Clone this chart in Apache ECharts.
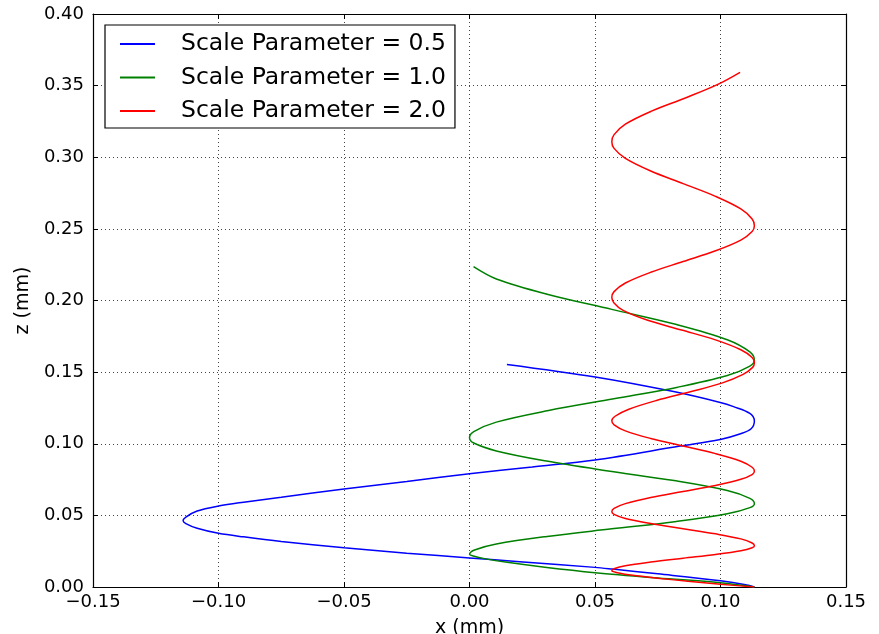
<!DOCTYPE html>
<html>
<head>
<meta charset="utf-8">
<script src="https://cdn.jsdelivr.net/npm/echarts@6/dist/echarts.min.js"></script>
<style>
html,body{margin:0;padding:0;background:#fff;}
#chart{width:879px;height:634px;}
</style>
</head>
<body>
<div id="chart"></div>
<script>
var seriesNames = ['Scale Parameter = 0.5', 'Scale Parameter = 1.0', 'Scale Parameter = 2.0'];
var seriesColors = ['#0000ff', '#008000', '#ff0000'];
var xTicks = {min: -0.15, max: 0.15, step: 0.05};
var zTicks = {min: 0, max: 0.40, step: 0.05};

// x (mm), z (mm) pairs
var blueData = [
  [0.1135, 0.0000], [0.1100, 0.0016], [0.1000, 0.0043], [0.0750, 0.0092],
  [0.0570, 0.0125], [0.0500, 0.0137], [0.0200, 0.0177], [0.0000, 0.0203],
  [-0.0250, 0.0236], [-0.0500, 0.0274], [-0.0750, 0.0318], [-0.0900, 0.0350],
  [-0.1000, 0.0375], [-0.1085, 0.0410], [-0.1130, 0.0443], [-0.1141, 0.0462],
  [-0.1130, 0.0488], [-0.1085, 0.0530], [-0.1000, 0.0565], [-0.0900, 0.0592],
  [-0.0750, 0.0627], [-0.0500, 0.0684], [-0.0250, 0.0737], [0.0000, 0.0790],
  [0.0250, 0.0838], [0.0500, 0.0887], [0.0839, 0.0984], [0.0999, 0.1030],
  [0.1080, 0.1070], [0.1122, 0.1105], [0.1135, 0.1159], [0.1117, 0.1212],
  [0.1052, 0.1259], [0.0999, 0.1288], [0.0813, 0.1364], [0.0501, 0.1466],
  [0.0149, 0.1554]
];

var greenData = [
  [0.1135, 0.0000], [0.1000, 0.0030], [0.0750, 0.0063], [0.0500, 0.0100],
  [0.0300, 0.0138], [0.0150, 0.0172], [0.0060, 0.0198], [0.0015, 0.0217],
  [0.0000, 0.0229],
  [0.0017, 0.0257], [0.0107, 0.0300], [0.0309, 0.0353], [0.0567, 0.0406],
  [0.0825, 0.0458], [0.1027, 0.0511], [0.1117, 0.0554], [0.1135, 0.0582],
  [0.1117, 0.0619], [0.1027, 0.0674], [0.0815, 0.0743], [0.0545, 0.0812],
  [0.0300, 0.0881], [0.0107, 0.0950], [0.0017, 0.1005], [0.0000, 0.1042],
  [0.0017, 0.1085], [0.0107, 0.1151], [0.0315, 0.1232], [0.0575, 0.1314],
  [0.0830, 0.1395], [0.1027, 0.1476], [0.1117, 0.1542], [0.1135, 0.1585],
  [0.1117, 0.1641], [0.1027, 0.1726], [0.0825, 0.1832], [0.0567, 0.1938],
  [0.0309, 0.2044], [0.0107, 0.2150], [0.0016, 0.2236]
];

var redData = [
  [0.1135, 0.0000], [0.1000, 0.0019], [0.0870, 0.0040], [0.0760, 0.0060],
  [0.0650, 0.0082], [0.0590, 0.0100], [0.0567, 0.0113],
  [0.0576, 0.0127], [0.0621, 0.0148], [0.0722, 0.0174], [0.0851, 0.0201],
  [0.0980, 0.0227], [0.1081, 0.0253], [0.1126, 0.0274], [0.1135, 0.0288],
  [0.1126, 0.0307], [0.1081, 0.0336], [0.0980, 0.0371], [0.0851, 0.0407],
  [0.0722, 0.0443], [0.0621, 0.0478], [0.0576, 0.0507], [0.0567, 0.0526],
  [0.0576, 0.0549], [0.0621, 0.0582], [0.0722, 0.0625], [0.0851, 0.0667],
  [0.0980, 0.0709], [0.1081, 0.0752], [0.1126, 0.0785], [0.1135, 0.0808],
  [0.1126, 0.0836], [0.1081, 0.0878], [0.0980, 0.0931], [0.0851, 0.0984],
  [0.0722, 0.1037], [0.0621, 0.1090], [0.0576, 0.1132], [0.0567, 0.1160],
  [0.0580, 0.1192], [0.0635, 0.1241], [0.0745, 0.1302], [0.0880, 0.1363],
  [0.1005, 0.1423], [0.1090, 0.1484], [0.1128, 0.1533], [0.1135, 0.1565],
  [0.1126, 0.1602], [0.1081, 0.1656], [0.0980, 0.1725], [0.0845, 0.1794],
  [0.0710, 0.1862], [0.0612, 0.1931], [0.0575, 0.1985], [0.0567, 0.2022],
  [0.0576, 0.2062], [0.0621, 0.2122], [0.0722, 0.2197], [0.0851, 0.2272],
  [0.0980, 0.2347], [0.1081, 0.2422], [0.1126, 0.2482], [0.1135, 0.2522],
  [0.1126, 0.2569], [0.1081, 0.2639], [0.0980, 0.2727], [0.0851, 0.2816],
  [0.0722, 0.2904], [0.0621, 0.2992], [0.0576, 0.3062], [0.0567, 0.3109],
  [0.0576, 0.3158], [0.0621, 0.3231], [0.0725, 0.3322], [0.0860, 0.3414],
  [0.0985, 0.3505], [0.1078, 0.3593]
];

var allData = [blueData, greenData, redData];

function fmt(v) {
  if (Math.abs(v) < 1e-9) return '0.00';
  return (v < 0 ? '\u2212' : '') + Math.abs(v).toFixed(2);
}

var FONT = 'DejaVu Sans';
var tickStyle = {show: true, inside: true, length: 5, lineStyle: {color: '#000', width: 1}};
var lineStyleAxis = {show: true, onZero: false, lineStyle: {color: '#000', width: 1.2}};
var gridLine = {show: true, lineStyle: {color: '#444', width: 1, type: [1, 3]}};

var chart = echarts.init(document.getElementById('chart'), null, {renderer: 'canvas'});
chart.setOption({
  animation: false,
  backgroundColor: '#fff',
  grid: {left: 93, right: 33, top: 14, bottom: 47, containLabel: false, outerBoundsMode: 'none'},
  legend: {
    data: seriesNames,
    orient: 'vertical',
    left: 105, top: 25,
    padding: [7, 9, 5, 15],
    itemWidth: 35, itemHeight: 2, itemGap: 9.5,
    icon: 'rect',
    borderColor: '#000', borderWidth: 1.2, backgroundColor: '#fff', borderRadius: 0,
    textStyle: {fontFamily: FONT, fontSize: 23.5, color: '#000', lineHeight: 24, padding: [0, 0, 0, 21]}
  },
  xAxis: [{
    type: 'value', position: 'bottom',
    min: xTicks.min, max: xTicks.max, interval: xTicks.step,
    axisLine: lineStyleAxis, axisTick: tickStyle,
    axisLabel: {formatter: fmt, fontFamily: FONT, fontSize: 18, color: '#000', margin: 6},
    splitLine: gridLine,
    name: 'x (mm)', nameLocation: 'middle', nameGap: 32,
    nameTextStyle: {fontFamily: FONT, fontSize: 19, color: '#000'}
  }, {
    type: 'value', position: 'top',
    min: xTicks.min, max: xTicks.max, interval: xTicks.step,
    axisLine: lineStyleAxis, axisTick: tickStyle,
    axisLabel: {show: false}, splitLine: {show: false}
  }],
  yAxis: [{
    type: 'value', position: 'left',
    min: zTicks.min, max: zTicks.max, interval: zTicks.step,
    axisLine: lineStyleAxis, axisTick: tickStyle,
    axisLabel: {formatter: fmt, fontFamily: FONT, fontSize: 18, color: '#000', margin: 9},
    splitLine: gridLine,
    name: 'z (mm)', nameLocation: 'middle', nameGap: 60,
    nameTextStyle: {fontFamily: FONT, fontSize: 19, color: '#000'}
  }, {
    type: 'value', position: 'right',
    min: zTicks.min, max: zTicks.max, interval: zTicks.step,
    axisLine: lineStyleAxis, axisTick: tickStyle,
    axisLabel: {show: false}, splitLine: {show: false}
  }],
  series: allData.map(function (d, i) {
    return {
      name: seriesNames[i], type: 'line', data: d,
      xAxisIndex: 0, yAxisIndex: 0,
      smooth: 0.35, symbol: 'none', showSymbol: false,
      color: seriesColors[i],
      lineStyle: {color: seriesColors[i], width: 1.5},
      z: 3 + i
    };
  })
});
</script>
</body>
</html>
